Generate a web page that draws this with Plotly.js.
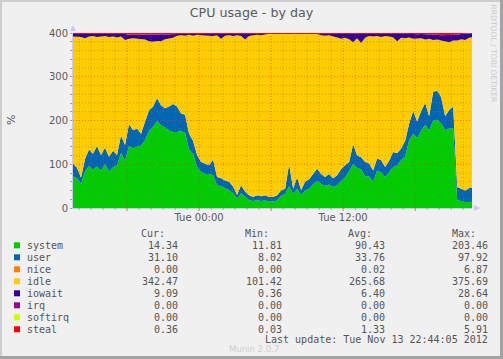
<!DOCTYPE html>
<html>
<head>
<meta charset="utf-8">
<script src="https://cdn.plot.ly/plotly-3.0.1.min.js"></script>
<style>
html,body{margin:0;padding:0;background:#F0F0F0;}
#chart{width:503px;height:359px;}
</style>
</head>
<body>
<div id="chart"></div>
<script>
// ---- data (20-minute samples from Mon 2012-11-12 13:30) ----
const startTime = '2012-11-12T13:30:00Z';
const stepMinutes = 20;

const system = [72,68,55,84,96,88,95,86,100,83,
  93,97,126,108,142,136,140,143,155,176,
  185,199,189,184,177,174,174,176,172,134,
  124,94,83,78,78,75,52,50,45,41,
  34,22,34,25,18,16,18,16,17,15,
  15,17,28,32,50,32,44,29,40,44,
  55,62,55,51,54,48,52,62,70,84,
  100,92,88,72,72,60,86,82,71,82,
  94,97,110,118,155,170,160,176,190,178,
  200,202,193,178,182,182,18,16,14,14,
  14.34];
const user = [30,24,14,28,38,36,47,35,38,34,
  38,24,40,36,50,42,42,27,42,47,
  47,52,46,44,55,64,58,40,41,36,
  30,27,22,24,20,36,19,18,18,19,
  15,8,18,12,11,9,11,11,12,10,
  10,12,12,12,50,12,26,12,20,22,
  24,28,23,20,24,20,23,27,28,21,
  46,28,28,33,30,26,27,27,23,26,
  34,28,26,36,38,52,38,46,50,32,
  66,66,60,32,42,50,30,28,26,32,
  31.10];
const nice = new Array(101).fill(0);
const idle = [290,300,322,276,258,269,249,271,255,274,
  261,269,226,240,195,210,205,217,188,158,
  148,131,146,158,156,151,162,179,181,226,
  240,275,290,292,295,282,324,319,331,335,
  344,365,341,348,364,370,367,368,368.5,373.5,
  373.5,369.5,358.5,354.5,297.5,354.5,328.5,357.5,338.5,331.5,
  319.5,307.5,317,323,317,325,315,298,291,281,
  233,268,261,284,291,306,280,282,299,284,
  262,256,253,234,197,165,190,166,145,177,
  118,117,130,171,155,151,335,342,344,343,
  345.11];
const iowait = [6,6,7,10,6,5,7,6,5,7,
  6,8,6,14,9,8,10,9,11,15,
  17,14,16,10,9,8,4,3,4,3,
  4,3,4,5,5,6,4,12,5,4,
  6,4,6,14,6,4,3,4,2,1,
  1,1,1,1,2,1,1,1,1,2,
  1,2,4,5,4,6,9,12,10,13,
  20,11,22,10,6,7,6,8,6,7,
  9,18,9,10,8,11,9,10,12,10,
  13,11,12,14,16,12,13,12,14,10,
  9.09];
const irq = new Array(101).fill(0);
const softirq = new Array(101).fill(0);
const steal = [2,2,2,2,2,2,2,2,2,2,
  2,2,2,2,4,4,3,4,4,4,
  3,4,3,4,3,3,2,2,2,1,
  2,1,1,1,2,1,1,1,1,1,
  1,1,1,1,1,1,1,1,0.5,0.5,
  0.5,0.5,0.5,0.5,0.5,0.5,0.5,0.5,0.5,0.5,
  0.5,0.5,1,1,1,1,1,1,1,1,
  1,1,1,1,1,1,1,1,1,1,
  1,1,2,2,2,2,3,2,3,3,
  3,4,5,5,5,5,4,2,2,1,
  0.36];

const seriesNames  = ['system','user','nice','idle','iowait','irq','softirq','steal'];
const seriesColors = ['#00CC00','#0066B3','#FF8000','#FFCC00','#330099','#990099','#CCFF00','#FF0000'];
const seriesData   = [system,user,nice,idle,iowait,irq,softirq,steal];

const curVals = ['14.34','31.10','0.00','342.47','9.09','0.00','0.00','0.36'];
const minVals = ['11.81','8.02','0.00','101.42','0.36','0.00','0.00','0.03'];
const avgVals = ['90.43','33.76','0.02','265.68','6.40','0.00','0.00','1.33'];
const maxVals = ['203.46','97.92','6.87','375.69','28.64','0.00','0.00','5.91'];

const xTickVals = ['2012-11-13 00:00:00','2012-11-13 12:00:00'];
const xTickText = ['Tue 00:00','Tue 12:00'];
const yTickVals = [0,100,200,300,400];
const xRange = ['2012-11-12 13:30:00','2012-11-13 22:44:00'];

// ---- build times ----
function fmt(d){
  const p = n => String(n).padStart(2,'0');
  return d.getUTCFullYear()+'-'+p(d.getUTCMonth()+1)+'-'+p(d.getUTCDate())+' '+p(d.getUTCHours())+':'+p(d.getUTCMinutes())+':00';
}
const t0 = new Date(startTime).getTime();
const times = system.map((_,i)=>fmt(new Date(t0 + i*stepMinutes*60000)));

const traces = seriesData.map((arr,k)=>({
  type:'scatter', mode:'lines', x:times, y:arr, stackgroup:'cpu',
  line:{width:0, color:seriesColors[k]}, fillcolor:seriesColors[k],
  hoverinfo:'skip', showlegend:false, name:seriesNames[k]
}));

// ---- geometry helpers (paper fractions) ----
const L=73, Rt=472, T=33, B=208;
const W=Rt-L, H=B-T;
const px = x => (x-L)/W;
const py = y => (B-y)/H;

const shapes = [];
// vertical grid + x ticks every hour
const hStart = new Date('2012-11-12T14:00:00Z').getTime();
const hEnd = new Date('2012-11-13T22:44:00Z').getTime();
for(let t=hStart; t<=hEnd; t+=3600000){
  const d = new Date(t);
  const major = d.getUTCHours()%6===0;
  const xs = fmt(d);
  shapes.push({type:'line', xref:'x', yref:'paper', x0:xs, x1:xs, y0:0, y1:1, layer:'above',
    line:{color: major?'rgba(255,40,40,0.55)':'rgba(120,120,120,0.45)', width:1, dash:'1px,2px'}});
  shapes.push({type:'line', xref:'x', yref:'paper', x0:xs, x1:xs, y0:0, y1:-(major?3:2)/H, layer:'above',
    line:{color: major?'rgba(255,60,60,0.8)':'rgba(150,150,150,0.8)', width:1}});
}
// horizontal grid every 20
for(let v=20; v<=400; v+=20){
  const major = v%100===0;
  shapes.push({type:'line', xref:'paper', yref:'y', x0:0, x1:1, y0:v, y1:v, layer:'above',
    line:{color: major?'rgba(255,40,40,0.55)':'rgba(120,120,120,0.45)', width:1, dash:'1px,2px'}});
}
// axis arrows
shapes.push({type:'path', xref:'paper', yref:'paper', layer:'above',
  path:`M ${px(474)},${py(205)} L ${px(480)},${py(208)} L ${px(474)},${py(211)} Z`,
  fillcolor:'#c8c8f4', line:{width:0}});
shapes.push({type:'path', xref:'paper', yref:'paper', layer:'above',
  path:`M ${px(70)},${py(31)} L ${px(73)},${py(25)} L ${px(76)},${py(31)} Z`,
  fillcolor:'#c8c8f4', line:{width:0}});
// legend colour boxes
const rowY = [245.3,257.3,269.3,281.3,293.3,305.3,317.3,329.3];
rowY.forEach((y,k)=>{
  shapes.push({type:'rect', xref:'paper', yref:'paper', x0:px(14), x1:px(20), y0:py(y+3), y1:py(y-3),
    fillcolor:seriesColors[k], line:{width:0}});
});
// frame border
const fx0=px(0), fx1=px(503), fy0=py(359), fy1=py(0);
shapes.push({type:'rect', xref:'paper', yref:'paper', x0:fx0, x1:px(2), y0:fy0, y1:fy1, fillcolor:'#cdcdcd', line:{width:0}});
shapes.push({type:'rect', xref:'paper', yref:'paper', x0:fx0, x1:fx1, y0:py(2), y1:fy1, fillcolor:'#cdcdcd', line:{width:0}});
shapes.push({type:'rect', xref:'paper', yref:'paper', x0:px(500), x1:fx1, y0:fy0, y1:fy1, fillcolor:'#a3a3a3', line:{width:0}});
shapes.push({type:'rect', xref:'paper', yref:'paper', x0:fx0, x1:fx1, y0:fy0, y1:py(356), fillcolor:'#a3a3a3', line:{width:0}});

// ---- annotations ----
const mono = {family:'DejaVu Sans Mono, monospace', size:10, color:'#555555'};
const ann = [];
function txt(x,y,text,anchor,font,extra){
  ann.push(Object.assign({xref:'paper', yref:'paper', x:px(x), y:py(y), text:text, showarrow:false,
    xanchor:anchor, yanchor:'middle', borderpad:0, font:font}, extra||{}));
}
txt(165.5,233.3,'Cur:','right',mono);
txt(269.5,233.3,'Min:','right',mono);
txt(372.5,233.3,'Avg:','right',mono);
txt(476.5,233.3,'Max:','right',mono);
rowY.forEach((y,k)=>{
  txt(25.5,y,seriesNames[k],'left',mono);
  txt(178.5,y,curVals[k],'right',mono);
  txt(283,y,minVals[k],'right',mono);
  txt(386,y,avgVals[k],'right',mono);
  txt(489.5,y,maxVals[k],'right',mono);
});
txt(489.5,339.3,'Last update: Tue Nov 13 22:44:05 2012','right',mono);
txt(253.5,348.5,'Munin 2.0.7','center',{family:'DejaVu Sans, sans-serif', size:8.5, color:'#cfcfcf'});
txt(493.5,54,'RRDTOOL / TOBI OETIKER','center',{family:'DejaVu Sans, sans-serif', size:7.6, color:'#cccccc'},{textangle:90});
txt(11,120,'%','center',{family:'DejaVu Sans, sans-serif', size:11, color:'#555555'},{textangle:-90});

const layout = {
  width:503, height:359,
  margin:{l:L, r:503-Rt, t:T, b:359-B, pad:0},
  paper_bgcolor:'#F0F0F0', plot_bgcolor:'#FFFFFF',
  title:{text:'CPU usage - by day', x:0.5, xref:'container', y:1-13/359, yref:'container', yanchor:'middle',
    font:{family:'DejaVu Sans, sans-serif', size:12.7, color:'#5a5a5a'}},
  xaxis:{type:'date', range:xRange, tickvals:xTickVals, ticktext:xTickText, ticks:'',
    showgrid:false, zeroline:false, showline:true, linecolor:'#c8c8f0', linewidth:1,
    tickfont:{family:'DejaVu Sans, sans-serif', size:10, color:'#5a5a5a'}, fixedrange:true},
  yaxis:{range:[0,400], tickvals:yTickVals, ticks:'outside', ticklen:2, tickcolor:'#a0a0a0',
    minor:{dtick:20, ticks:'outside', ticklen:2, tickcolor:'#a0a0a0', showgrid:false},
    showgrid:false, zeroline:false, showline:true, linecolor:'#c8c8f0', linewidth:1,
    tickfont:{family:'DejaVu Sans, sans-serif', size:10, color:'#5a5a5a'}, fixedrange:true},
  shapes:shapes,
  annotations:ann,
  showlegend:false
};

Plotly.newPlot('chart', traces, layout, {staticPlot:true, displayModeBar:false});
</script>
</body>
</html>
